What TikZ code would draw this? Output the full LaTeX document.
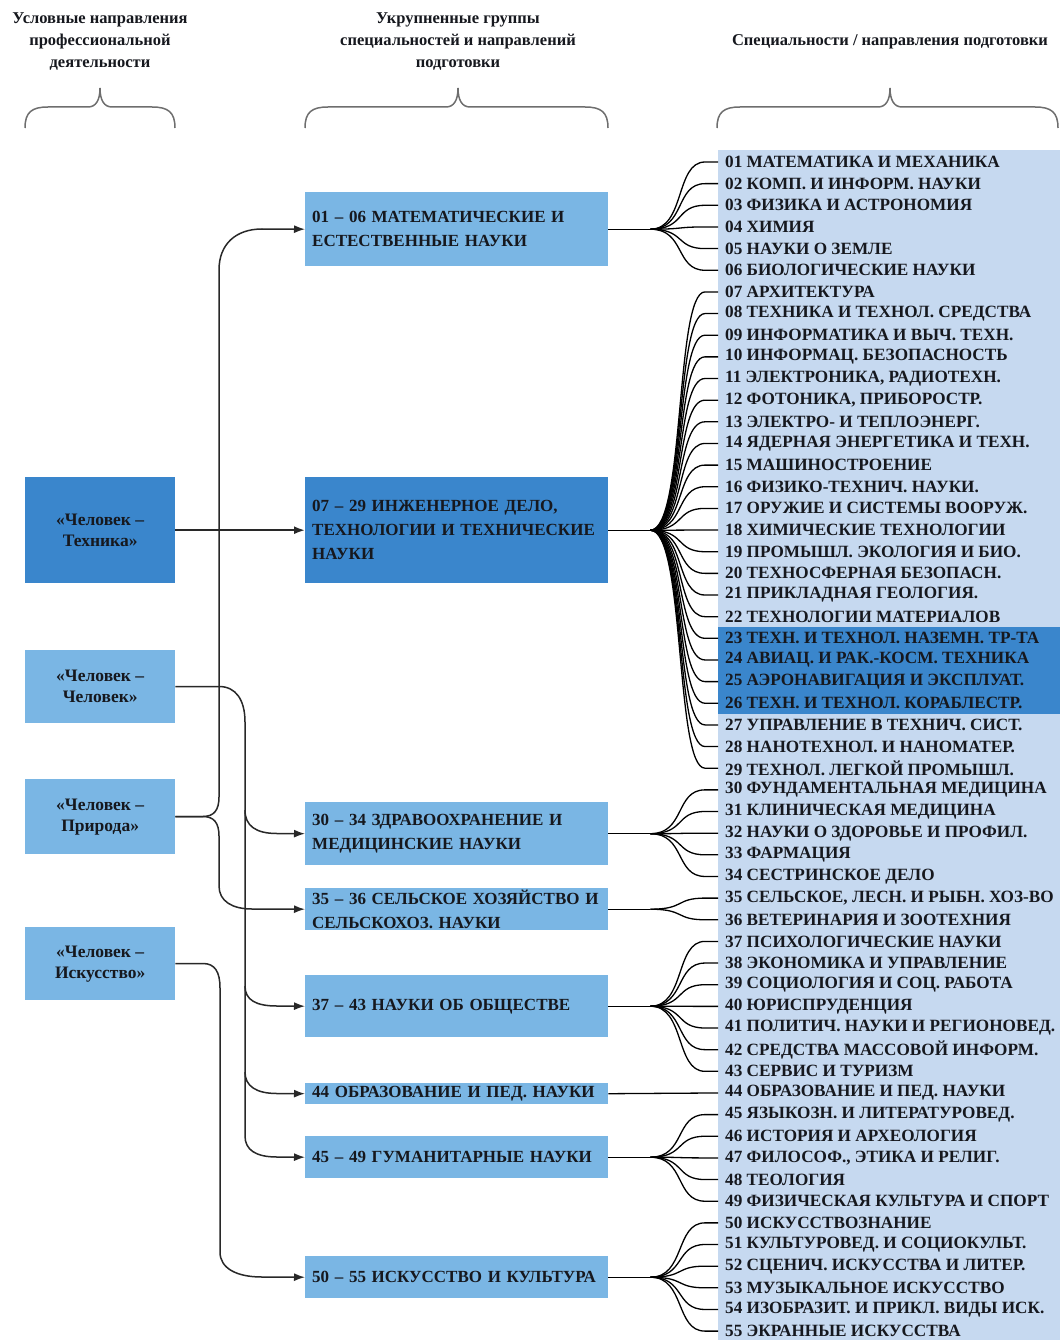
\documentclass[tikz,border=0pt]{standalone}
\usepackage{fontspec}
\setmainfont{Liberation Serif}
\usetikzlibrary{arrows.meta,calc}
\definecolor{lightb}{RGB}{122,182,228}
\definecolor{darkb}{RGB}{58,134,204}
\definecolor{bgl}{RGB}{198,217,240}
\definecolor{txt}{RGB}{22,24,30}
\definecolor{conn}{RGB}{40,40,40}
\definecolor{brc}{RGB}{110,110,110}
\begin{document}
\begin{tikzpicture}[x=1pt,y=-1pt,
  lbox/.style={rectangle, inner sep=0, minimum width=150, align=center, anchor=north west, font=\bfseries\fontsize{17.5}{21}\selectfont, text=txt},
  mbox/.style={rectangle, inner xsep=7, inner ysep=0, text width=289, align=left, anchor=north west, font=\bfseries\fontsize{17}{24}\selectfont, text=txt},
  item/.style={anchor=west, inner xsep=7, inner ysep=0, font=\bfseries\fontsize{17.2}{20}\selectfont, text=txt},
  conn/.style={draw=conn, line width=1.5},
  arr/.style={conn, -{Latex[length=11,width=8]}},
  fan/.style={draw=black, line width=1.3},
  bracest/.style={draw=brc, line width=1.5},
  hdr/.style={align=center, font=\bfseries\fontsize{16.5}{22}\selectfont, text=txt}
]
\useasboundingbox (0,0) rectangle (1060,1340);
\fill[white] (0,0) rectangle (1060,1340);
% right background and highlight
\fill[bgl] (718,150) rectangle (1060,1340);
\fill[darkb] (718,627) rectangle (1060,714);

% headers
\node[hdr] (h1) at (100,42) {Условные направления\\профессиональной\\деятельности};
\node[hdr] (h2) at (458,42) {Укрупненные группы\\специальностей и направлений\\подготовки};
\node[hdr] (h3) at (890,42) {Специальности / направления подготовки};

% braces
\draw[bracest] (25,128) .. controls (25,112) and (32,107) .. (48,107) -- (88,107) .. controls (96,107) and (100,100) .. (100,88) .. controls (100,100) and (104,107) .. (112,107) -- (152,107) .. controls (168,107) and (175,112) .. (175,128);
\draw[bracest] (305,128) .. controls (305,112) and (312,107) .. (328,107) -- (446,107) .. controls (454,107) and (458,100) .. (458,88) .. controls (458,100) and (462,107) .. (470,107) -- (585,107) .. controls (601,107) and (608,112) .. (608,128);
\draw[bracest] (717,128) .. controls (717,112) and (724,107) .. (740,107) -- (878,107) .. controls (886,107) and (890,100) .. (890,88) .. controls (890,100) and (894,107) .. (902,107) -- (1035,107) .. controls (1051,107) and (1058,112) .. (1058,128);

% left boxes
\node[lbox, fill=darkb, minimum height=106] (tech) at (25,477) {«Человек –\\Техника»};
\node[lbox, fill=lightb, minimum height=73] (chel) at (25,650) {«Человек –\\Человек»};
\node[lbox, fill=lightb, minimum height=75] (pri) at (25,779) {«Человек –\\Природа»};
\node[lbox, fill=lightb, minimum height=73] (isk) at (25,927) {«Человек –\\Искусство»};

% middle boxes
\node[mbox, fill=lightb, minimum height=74] (g1) at (305,192) {01 – 06 МАТЕМАТИЧЕСКИЕ И\\ЕСТЕСТВЕННЫЕ НАУКИ};
\node[mbox, fill=darkb, minimum height=106] (g2) at (305,477) {07 – 29 ИНЖЕНЕРНОЕ ДЕЛО,\\ТЕХНОЛОГИИ И ТЕХНИЧЕСКИЕ\\НАУКИ};
\node[mbox, fill=lightb, minimum height=63] (g3) at (305,802) {30 – 34 ЗДРАВООХРАНЕНИЕ И\\МЕДИЦИНСКИЕ НАУКИ};
\node[mbox, fill=lightb, minimum height=42] (g4) at (305,888) {35 – 36 СЕЛЬСКОЕ ХОЗЯЙСТВО И\\СЕЛЬСКОХОЗ. НАУКИ};
\node[mbox, fill=lightb, minimum height=62] (g5) at (305,975) {37 – 43 НАУКИ ОБ ОБЩЕСТВЕ};
\node[mbox, fill=lightb, minimum height=21] (g6) at (305,1083) {44 ОБРАЗОВАНИЕ И ПЕД. НАУКИ};
\node[mbox, fill=lightb, minimum height=42] (g7) at (305,1136) {45 – 49 ГУМАНИТАРНЫЕ НАУКИ};
\node[mbox, fill=lightb, minimum height=42] (g8) at (305,1256) {50 – 55 ИСКУССТВО И КУЛЬТУРА};

% items
\foreach \k/\t in {
1/{01 МАТЕМАТИКА И МЕХАНИКА},
2/{02 КОМП. И ИНФОРМ. НАУКИ},
3/{03 ФИЗИКА И АСТРОНОМИЯ},
4/{04 ХИМИЯ},
5/{05 НАУКИ О ЗЕМЛЕ},
6/{06 БИОЛОГИЧЕСКИЕ НАУКИ},
7/{07 АРХИТЕКТУРА},
8/{08 ТЕХНИКА И ТЕХНОЛ. СРЕДСТВА},
9/{09 ИНФОРМАТИКА И ВЫЧ. ТЕХН.},
10/{10 ИНФОРМАЦ. БЕЗОПАСНОСТЬ},
11/{11 ЭЛЕКТРОНИКА, РАДИОТЕХН.},
12/{12 ФОТОНИКА, ПРИБОРОСТР.},
13/{13 ЭЛЕКТРО- И ТЕПЛОЭНЕРГ.},
14/{14 ЯДЕРНАЯ ЭНЕРГЕТИКА И ТЕХН.},
15/{15 МАШИНОСТРОЕНИЕ},
16/{16 ФИЗИКО-ТЕХНИЧ. НАУКИ.},
17/{17 ОРУЖИЕ И СИСТЕМЫ ВООРУЖ.},
18/{18 ХИМИЧЕСКИЕ ТЕХНОЛОГИИ},
19/{19 ПРОМЫШЛ. ЭКОЛОГИЯ И БИО.},
20/{20 ТЕХНОСФЕРНАЯ БЕЗОПАСН.},
21/{21 ПРИКЛАДНАЯ ГЕОЛОГИЯ.},
22/{22 ТЕХНОЛОГИИ МАТЕРИАЛОВ},
23/{23 ТЕХН. И ТЕХНОЛ. НАЗЕМН. ТР-ТА},
24/{24 АВИАЦ. И РАК.-КОСМ. ТЕХНИКА},
25/{25 АЭРОНАВИГАЦИЯ И ЭКСПЛУАТ.},
26/{26 ТЕХН. И ТЕХНОЛ. КОРАБЛЕСТР.},
27/{27 УПРАВЛЕНИЕ В ТЕХНИЧ. СИСТ.},
28/{28 НАНОТЕХНОЛ. И НАНОМАТЕР.},
29/{29 ТЕХНОЛ. ЛЕГКОЙ ПРОМЫШЛ.},
30/{30 ФУНДАМЕНТАЛЬНАЯ МЕДИЦИНА},
31/{31 КЛИНИЧЕСКАЯ МЕДИЦИНА},
32/{32 НАУКИ О ЗДОРОВЬЕ И ПРОФИЛ.},
33/{33 ФАРМАЦИЯ},
34/{34 СЕСТРИНСКОЕ ДЕЛО},
35/{35 СЕЛЬСКОЕ, ЛЕСН. И РЫБН. ХОЗ-ВО},
36/{36 ВЕТЕРИНАРИЯ И ЗООТЕХНИЯ},
37/{37 ПСИХОЛОГИЧЕСКИЕ НАУКИ},
38/{38 ЭКОНОМИКА И УПРАВЛЕНИЕ},
39/{39 СОЦИОЛОГИЯ И СОЦ. РАБОТА},
40/{40 ЮРИСПРУДЕНЦИЯ},
41/{41 ПОЛИТИЧ. НАУКИ И РЕГИОНОВЕД.},
42/{42 СРЕДСТВА МАССОВОЙ ИНФОРМ.},
43/{43 СЕРВИС И ТУРИЗМ},
44/{44 ОБРАЗОВАНИЕ И ПЕД. НАУКИ},
45/{45 ЯЗЫКОЗН. И ЛИТЕРАТУРОВЕД.},
46/{46 ИСТОРИЯ И АРХЕОЛОГИЯ},
47/{47 ФИЛОСОФ., ЭТИКА И РЕЛИГ.},
48/{48 ТЕОЛОГИЯ},
49/{49 ФИЗИЧЕСКАЯ КУЛЬТУРА И СПОРТ},
50/{50 ИСКУССТВОЗНАНИЕ},
51/{51 КУЛЬТУРОВЕД. И СОЦИОКУЛЬТ.},
52/{52 СЦЕНИЧ. ИСКУССТВА И ЛИТЕР.},
53/{53 МУЗЫКАЛЬНОЕ ИСКУССТВО},
54/{54 ИЗОБРАЗИТ. И ПРИКЛ. ВИДЫ ИСК.},
55/{55 ЭКРАННЫЕ ИСКУССТВА}} {
  \node[item] (i\k) at (718,{162+(\k-1)*21.65}) {\t};
}

% fans
\foreach \a/\b/\c in {1/6/g1, 7/29/g2, 30/34/g3, 35/36/g4, 37/43/g5, 45/49/g7, 50/55/g8} {
  \coordinate (cv) at ($(\c.east)+(42,0)$);
  \draw[fan] (\c.east) -- (cv);
  \foreach \k in {\a,...,\b} {
    \draw[fan] (cv) .. controls +(35,0) and +(-30,0) .. ($(i\k.west)+(-13,0)$) -- (i\k.west);
  }
}
\draw[fan] (g6.east) -- (i44.west);

% left connectors
\coordinate (psplit) at (203,816.5);
\draw[arr, line width=2] (tech.east) -- (g2.west);
\draw[arr] (pri.east) -- (psplit) .. controls (214,816.5) and (219,810) .. (219,797) -- (219,270) .. controls (219,244) and (236,229) .. (262,229) -- (g1.west);
\draw[arr] (pri.east) -- (psplit) .. controls (214,816.5) and (219,823) .. (219,836) -- (219,886) .. controls (219,901) and (232,909) .. (252,909) -- (g4.west);
\draw[arr] (chel.east) -- (219,686.5) .. controls (236,686.5) and (245,700) .. (245,722) -- (245,1136) .. controls (245,1150) and (256,1157) .. (277,1157) -- (g7.west);
\coordinate (b3) at (245,810);
\coordinate (b5) at (245,986);
\coordinate (b6) at (245,1072);
\draw[arr] (b3) .. controls (245,826) and (256,833.5) .. (277,833.5) -- (g3.west);
\draw[arr] (b5) .. controls (245,1000) and (256,1006) .. (277,1006) -- (g5.west);
\draw[arr] (b6) .. controls (245,1086) and (256,1093.5) .. (277,1093.5) -- (g6.west);
\draw[arr] (isk.east) -- (203,963.5) .. controls (215,963.5) and (220,972) .. (220,988) -- (220,1252) .. controls (220,1268) and (236,1277) .. (262,1277) -- (g8.west);
\end{tikzpicture}
\end{document}
